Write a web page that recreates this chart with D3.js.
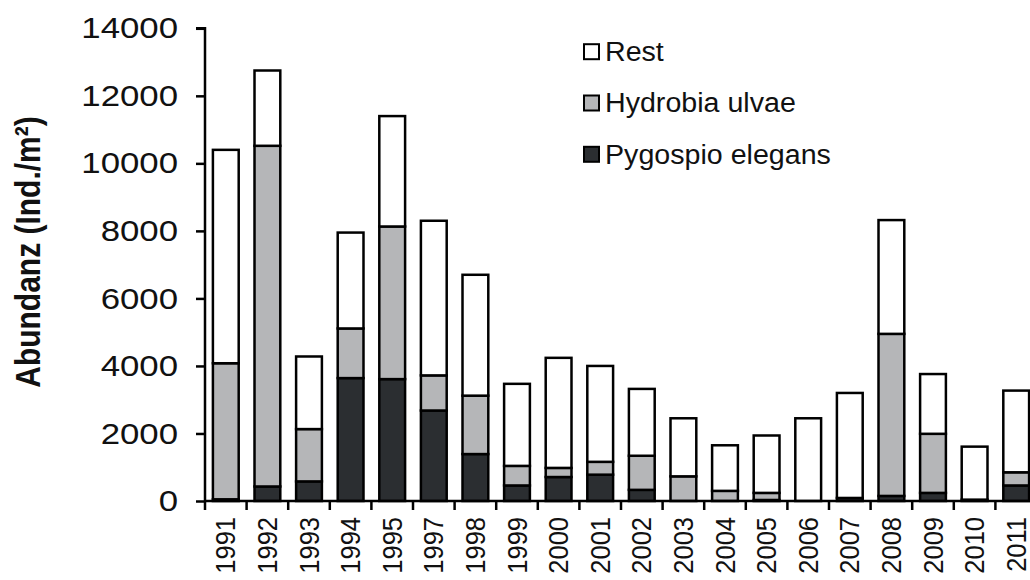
<!DOCTYPE html>
<html>
<head>
<meta charset="utf-8">
<script src="https://cdn.jsdelivr.net/npm/d3@7"></script>
<style>
  body { margin: 0; background: #fff; }
  text { font-family: "Liberation Sans", Arial, sans-serif; fill: #111; }
</style>
</head>
<body>
<svg id="chart" width="1030" height="580"></svg>
<script>
// years on the x axis (1996 missing)
const years = ['1991','1992','1993','1994','1995','1997','1998','1999','2000','2001',
  '2002','2003','2004','2005','2006','2007','2008','2009','2010','2011']
// Ind./m²
const pygospio = [50, 430, 580, 3640, 3610, 2680, 1390, 460, 710, 780,
  330, 0, 0, 30, 0, 90, 150, 240, 40, 460]
const hydrobia = [4030, 10090, 1550, 1470, 4520, 1040, 1730, 580, 270, 380,
  1010, 730, 300, 210, 0, 0, 4800, 1750, 0, 390]
const rest = [6320, 2230, 2150, 2840, 3270, 4580, 3580, 2430, 3260, 2840,
  1980, 1720, 1350, 1700, 2450, 3110, 3370, 1770, 1570, 2420]
const yTicks = [0, 2000, 4000, 6000, 8000, 10000, 12000, 14000]

const seriesKeys = ['pygospio', 'hydrobia', 'rest']
const seriesNames = {rest: 'Rest', hydrobia: 'Hydrobia ulvae', pygospio: 'Pygospio elegans'}
const colors = {pygospio: '#2b2e31', hydrobia: '#b5b6b8', rest: '#ffffff'}

const rows = years.map((y, i) => ({year: y, pygospio: pygospio[i], hydrobia: hydrobia[i], rest: rest[i]}))

var svg = d3.select('#chart')
var x0 = 205, x1 = 1037, yTop = 28.3, yBot = 501
var stretch = 1.16  // the original picture is a bit wider than tall

var x = d3.scaleBand().domain(years).range([x0, x1]).paddingInner(0.38).paddingOuter(0.19)
var y = d3.scaleLinear().domain([0, 14000]).range([yBot, yTop])

var stack = d3.stack().keys(seriesKeys)(rows)

// bars
svg.append('g').selectAll('g')
  .data(stack)
  .enter().append('g')
  .attr('fill', d => colors[d.key])
  .selectAll('rect')
  .data(d => d.filter(p => p[1] - p[0] > 0))
  .enter().append('rect')
  .attr('x', d => x(d.data.year))
  .attr('width', x.bandwidth())
  .attr('y', d => y(d[1]))
  .attr('height', d => y(d[0]) - y(d[1]))
  .attr('stroke', '#000')
  .attr('stroke-width', 2.5)

// y axis
var yAxis = svg.append('g')
  .attr('transform', 'translate(' + x0 + ',0)')
  .call(d3.axisLeft(y).tickValues(yTicks).tickSize(9).tickFormat(d3.format('d')))
yAxis.selectAll('line, path').attr('stroke', '#000').attr('stroke-width', 2.5)
yAxis.select('.domain').attr('d', 'M-9,' + yTop + 'H0V' + yBot)
yAxis.selectAll('text')
  .attr('font-size', 30)
  .attr('x', -27 / stretch)
  .attr('transform', 'scale(' + stretch + ',1)')
  .style('font-family', '"Liberation Sans", Arial, sans-serif')
  .attr('fill', '#111')

// x axis: line and ticks between the categories
var step = x.step()
var xt = d3.range(years.length + 1).map(i => x0 + i * step)
svg.append('line')
  .attr('x1', x0).attr('x2', x1).attr('y1', yBot).attr('y2', yBot)
  .attr('stroke', '#000').attr('stroke-width', 2.5)
svg.append('g').selectAll('line')
  .data(xt)
  .enter().append('line')
  .attr('x1', d => d).attr('x2', d => d)
  .attr('y1', yBot).attr('y2', yBot + 9)
  .attr('stroke', '#000').attr('stroke-width', 2.5)

svg.append('g').selectAll('text')
  .data(years)
  .enter().append('text')
  .attr('transform', d => 'translate(' + (x(d) + x.bandwidth() / 2) + ',' + (yBot + 16) + ') scale(1.08,1) rotate(-90)')
  .attr('text-anchor', 'end')
  .attr('dy', '0.35em')
  .attr('font-size', 25.5)
  .text(d => d)

// y title
svg.append('text')
  .attr('transform', 'translate(28,252) scale(' + stretch + ',1) rotate(-90)')
  .attr('text-anchor', 'middle')
  .attr('dy', '0.35em')
  .attr('font-size', 30)
  .attr('font-weight', 'bold')
  .text('Abundanz (Ind./m²)')

// legend
var legendKeys = ['rest', 'hydrobia', 'pygospio']
var lg = svg.append('g').selectAll('g')
  .data(legendKeys)
  .enter().append('g')
  .attr('transform', (d, i) => 'translate(584,' + (51.7 + i * 51.3) + ')')
lg.append('rect')
  .attr('x', 0).attr('y', -7.5).attr('width', 15).attr('height', 15)
  .attr('fill', d => colors[d]).attr('stroke', '#000').attr('stroke-width', 2)
lg.append('text')
  .attr('x', 21 / 1.06).attr('dy', '0.35em')
  .attr('transform', 'scale(1.06,1)')
  .attr('font-size', 27)
  .text(d => seriesNames[d])
</script>
</body>
</html>
